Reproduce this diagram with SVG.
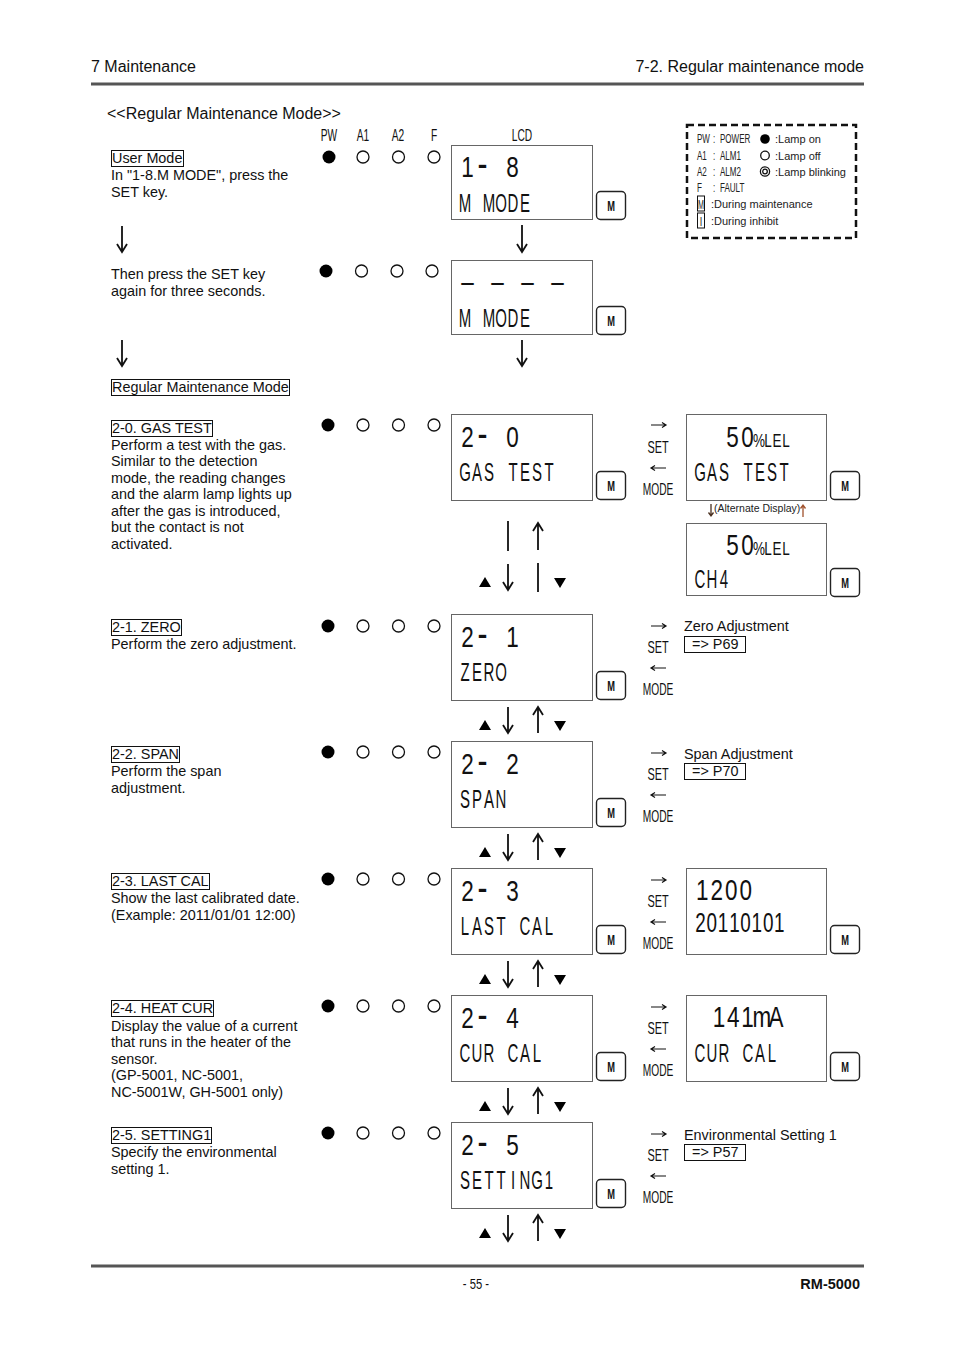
<svg xmlns="http://www.w3.org/2000/svg" width="954" height="1351" viewBox="0 0 954 1351">
<defs>
<style>
.t{font-family:"Liberation Sans",Arial,sans-serif;font-size:14.4px;fill:#111}
.hd{font-family:"Liberation Sans",Arial,sans-serif;font-size:16px;fill:#111}
.c{font-family:"Liberation Sans",Arial,sans-serif;fill:#111;text-anchor:middle}
.big{font-size:30px}
.med{font-size:25px}
.dash{font-size:40px}
.box{fill:#fff;stroke:#666;stroke-width:1}
.mb{fill:#fff;stroke:#222;stroke-width:1.4}
.mt{font-family:"Liberation Sans",Arial,sans-serif;font-size:15px;font-weight:bold;fill:#111;text-anchor:middle}
.lb{fill:none;stroke:#111;stroke-width:1}
.on{fill:#000}
.off{fill:#fff;stroke:#111;stroke-width:1.3}
.ar{fill:none;stroke:#111;stroke-width:1.8}
.sa{fill:none;stroke:#111;stroke-width:1.2}
.tri{fill:#000}
.lg{font-family:"Liberation Sans",Arial,sans-serif;font-size:11px;fill:#222}
.lgc{font-family:"Liberation Sans",Arial,sans-serif;font-size:13px;fill:#222}
</style>
</defs>
<rect width="954" height="1351" fill="#fff"/>

<g id="header">
<text class="hd" x="91" y="72">7 Maintenance</text>
<text class="hd" x="864" y="72" text-anchor="end">7-2. Regular maintenance mode</text>
<rect x="91" y="82.5" width="773" height="3" fill="#555"/>
<text class="hd" x="107" y="119">&lt;&lt;Regular Maintenance Mode&gt;&gt;</text>
</g>

<g id="column-labels">
<text class="c" font-size="17" transform="translate(329,141) scale(0.6,1)">PW</text>
<text class="c" font-size="17" transform="translate(363,141) scale(0.6,1)">A1</text>
<text class="c" font-size="17" transform="translate(398,141) scale(0.6,1)">A2</text>
<text class="c" font-size="17" transform="translate(434,141) scale(0.6,1)">F</text>
<text class="c" font-size="17" transform="translate(522,141) scale(0.6,1)">LCD</text>
</g>

<g id="legend">
<rect x="687" y="125" width="169" height="113" fill="none" stroke="#111" stroke-width="2.5" stroke-dasharray="7,4"/>
<text class="lgc" transform="translate(697,143) scale(0.62,1)"><tspan x="0">PW</tspan><tspan x="26">:</tspan><tspan x="37">POWER</tspan></text>
<text class="lgc" transform="translate(697,160) scale(0.62,1)"><tspan x="0">A1</tspan><tspan x="26">:</tspan><tspan x="37">ALM1</tspan></text>
<text class="lgc" transform="translate(697,176) scale(0.62,1)"><tspan x="0">A2</tspan><tspan x="26">:</tspan><tspan x="37">ALM2</tspan></text>
<text class="lgc" transform="translate(697,192) scale(0.62,1)"><tspan x="0">F</tspan><tspan x="26">:</tspan><tspan x="37">FAULT</tspan></text>
<rect x="697.5" y="196" width="7" height="15" fill="none" stroke="#111" stroke-width="1"/>
<text class="lgc" transform="translate(701,209) scale(0.55,1)" text-anchor="middle">M</text>
<text class="lg" x="711" y="208">:During maintenance</text>
<rect x="697.5" y="213" width="7" height="15" fill="none" stroke="#111" stroke-width="1"/>
<text class="lgc" transform="translate(701,226) scale(0.7,1)" text-anchor="middle">I</text>
<text class="lg" x="711" y="225">:During inhibit</text>
<circle cx="765" cy="139" r="4.8" class="on"/>
<text class="lg" x="775" y="143">:Lamp on</text>
<circle cx="765" cy="155.5" r="4.3" class="off" stroke-width="1"/>
<text class="lg" x="775" y="160">:Lamp off</text>
<circle cx="765" cy="171.5" r="4.6" class="off" stroke-width="1"/>
<circle cx="765" cy="171.5" r="2.3" class="off" stroke-width="1"/>
<text class="lg" x="775" y="176">:Lamp blinking</text>
</g>

<g id="step-user-mode">
<rect class="lb" x="111.5" y="150.5" width="72" height="16"/>
<text class="t" x="112" y="163">User Mode</text>
<text class="t" x="111" y="180">In "1-8.M MODE", press the</text>
<text class="t" x="111" y="197">SET key.</text>
<circle cx="329" cy="157" r="6.5" class="on"/>
<circle cx="363" cy="157" r="6" class="off"/>
<circle cx="398.5" cy="157" r="6" class="off"/>
<circle cx="434" cy="157" r="6" class="off"/>
<rect class="box" x="451.5" y="145.5" width="141" height="74"/>
<text class="c big" transform="translate(460,177) scale(0.75,1)"><tspan x="10">1</tspan><tspan class="dash" x="30">-</tspan><tspan x="50 70"> 8</tspan></text>
<text class="c med" transform="translate(459,212) scale(0.6,1)" x="10 30 50 70 90 110">M MODE</text>
<rect class="mb" x="596.5" y="191.5" width="29" height="28" rx="4"/>
<text class="mt" transform="translate(611,211) scale(0.62,1)">M</text>
</g>

<g id="step-press-set">
<text class="t" x="111" y="279">Then press the SET key</text>
<text class="t" x="111" y="296">again for three seconds.</text>
<circle cx="326" cy="271" r="6.5" class="on"/>
<circle cx="361.5" cy="271" r="6" class="off"/>
<circle cx="397" cy="271" r="6" class="off"/>
<circle cx="432" cy="271" r="6" class="off"/>
<rect class="box" x="451.5" y="260.5" width="141" height="74"/>
<text class="c big" transform="translate(460,292) scale(0.75,1)" x="10 30 50 70 90 110 130">– – – –</text>
<text class="c med" transform="translate(459,327) scale(0.6,1)" x="10 30 50 70 90 110">M MODE</text>
<rect class="mb" x="596.5" y="306.5" width="29" height="28" rx="4"/>
<text class="mt" transform="translate(611,326) scale(0.62,1)">M</text>
</g>

<g id="title-regular">
<rect class="lb" x="111.5" y="379.5" width="178" height="16"/>
<text class="t" x="112" y="392">Regular Maintenance Mode</text>
</g>

<!-- 2-0 -->
<g id="step-2-0">
<rect class="lb" x="111.5" y="420.5" width="101" height="16"/>
<text class="t" x="112" y="433">2-0. GAS TEST</text>
<text class="t" x="111" y="450">Perform a test with the gas.</text>
<text class="t" x="111" y="466">Similar to the detection</text>
<text class="t" x="111" y="483">mode, the reading changes</text>
<text class="t" x="111" y="499">and the alarm lamp lights up</text>
<text class="t" x="111" y="516">after the gas is introduced,</text>
<text class="t" x="111" y="532">but the contact is not</text>
<text class="t" x="111" y="549">activated.</text>
<circle cx="328" cy="425" r="6.5" class="on"/>
<circle cx="363" cy="425" r="6" class="off"/>
<circle cx="398.5" cy="425" r="6" class="off"/>
<circle cx="434" cy="425" r="6" class="off"/>
<rect class="box" x="451.5" y="414.5" width="141" height="86"/>
<text class="c big" transform="translate(460,447) scale(0.75,1)"><tspan x="10">2</tspan><tspan class="dash" x="30">-</tspan><tspan x="50 70"> 0</tspan></text>
<text class="c med" transform="translate(459,481) scale(0.6,1)" x="10 30 50 70 90 110 130 150">GAS TEST</text>
<rect class="mb" x="596.5" y="471.5" width="29" height="28" rx="4"/>
<text class="mt" transform="translate(611,491) scale(0.62,1)">M</text>
<path class="sa" d="M651 425H666M662 422.5L666 425L662 427.5"/>
<text class="c" font-size="17" transform="translate(658,453) scale(0.64,1)">SET</text>
<path class="sa" d="M666 468H651M655 465.5L651 468L655 470.5"/>
<text class="c" font-size="17" transform="translate(658,495) scale(0.6,1)">MODE</text>
</g>

<g id="gas-test-display">
<rect class="box" x="686.5" y="414.5" width="140" height="86"/>
<text class="c big" transform="translate(695,447) scale(0.75,1)"><tspan x="50 70">50</tspan><tspan font-size="18" x="85.5 97.5 109.5 121.5">%LEL</tspan></text>
<text class="c med" transform="translate(694,481) scale(0.6,1)" x="10 30 50 70 90 110 130 150">GAS TEST</text>
<rect class="mb" x="830.5" y="471.5" width="29" height="28" rx="4"/>
<text class="mt" transform="translate(845,491) scale(0.62,1)">M</text>
<text x="714" y="512" font-family="Liberation Sans, Arial, sans-serif" font-size="10.5" fill="#222">(Alternate Display)</text>
<path d="M711 504V516M708.5 512.5L711 516L713.5 512.5" fill="none" stroke="#4a3020" stroke-width="1.3"/>
<path d="M803 517V505M800.5 508.5L803 505L805.5 508.5" fill="none" stroke="#a0522d" stroke-width="1.3"/>
<rect class="box" x="686.5" y="523.5" width="140" height="72"/>
<text class="c big" transform="translate(695,555) scale(0.75,1)"><tspan x="50 70">50</tspan><tspan font-size="18" x="85.5 97.5 109.5 121.5">%LEL</tspan></text>
<text class="c med" transform="translate(694,588) scale(0.6,1)" x="10 30 50">CH4</text>
<rect class="mb" x="830.5" y="568.5" width="29" height="28" rx="4"/>
<text class="mt" transform="translate(845,588) scale(0.62,1)">M</text>
</g>

<!-- 2-1 -->
<g id="step-2-1">
<rect class="lb" x="111.5" y="619.5" width="70" height="16"/>
<text class="t" x="112" y="632">2-1. ZERO</text>
<text class="t" x="111" y="649">Perform the zero adjustment.</text>
<circle cx="328" cy="626" r="6.5" class="on"/>
<circle cx="363" cy="626" r="6" class="off"/>
<circle cx="398.5" cy="626" r="6" class="off"/>
<circle cx="434" cy="626" r="6" class="off"/>
<rect class="box" x="451.5" y="614.5" width="141" height="86"/>
<text class="c big" transform="translate(460,647) scale(0.75,1)"><tspan x="10">2</tspan><tspan class="dash" x="30">-</tspan><tspan x="50 70"> 1</tspan></text>
<text class="c med" transform="translate(459,681) scale(0.6,1)" x="10 30 50 70">ZERO</text>
<rect class="mb" x="596.5" y="671.5" width="29" height="28" rx="4"/>
<text class="mt" transform="translate(611,691) scale(0.62,1)">M</text>
<path class="sa" d="M651 626H666M662 623.5L666 626L662 628.5"/>
<text class="c" font-size="17" transform="translate(658,653) scale(0.64,1)">SET</text>
<path class="sa" d="M666 668H651M655 665.5L651 668L655 670.5"/>
<text class="c" font-size="17" transform="translate(658,695) scale(0.6,1)">MODE</text>
<text class="t" x="684" y="631">Zero Adjustment</text>
<rect class="lb" x="684.5" y="636.5" width="61" height="16"/>
<text class="t" x="692" y="649">=&gt; P69</text>
</g>

<!-- 2-2 -->
<g id="step-2-2">
<rect class="lb" x="111.5" y="746.5" width="68" height="16"/>
<text class="t" x="112" y="759">2-2. SPAN</text>
<text class="t" x="111" y="776">Perform the span</text>
<text class="t" x="111" y="793">adjustment.</text>
<circle cx="328" cy="752" r="6.5" class="on"/>
<circle cx="363" cy="752" r="6" class="off"/>
<circle cx="398.5" cy="752" r="6" class="off"/>
<circle cx="434" cy="752" r="6" class="off"/>
<rect class="box" x="451.5" y="741.5" width="141" height="86"/>
<text class="c big" transform="translate(460,774) scale(0.75,1)"><tspan x="10">2</tspan><tspan class="dash" x="30">-</tspan><tspan x="50 70"> 2</tspan></text>
<text class="c med" transform="translate(459,808) scale(0.6,1)" x="10 30 50 70">SPAN</text>
<rect class="mb" x="596.5" y="798.5" width="29" height="28" rx="4"/>
<text class="mt" transform="translate(611,818) scale(0.62,1)">M</text>
<path class="sa" d="M651 753H666M662 750.5L666 753L662 755.5"/>
<text class="c" font-size="17" transform="translate(658,780) scale(0.64,1)">SET</text>
<path class="sa" d="M666 795H651M655 792.5L651 795L655 797.5"/>
<text class="c" font-size="17" transform="translate(658,822) scale(0.6,1)">MODE</text>
<text class="t" x="684" y="759">Span Adjustment</text>
<rect class="lb" x="684.5" y="763.5" width="61" height="16"/>
<text class="t" x="692" y="776">=&gt; P70</text>
</g>

<!-- 2-3 -->
<g id="step-2-3">
<rect class="lb" x="111.5" y="873.5" width="98" height="16"/>
<text class="t" x="112" y="886">2-3. LAST CAL</text>
<text class="t" x="111" y="903">Show the last calibrated date.</text>
<text class="t" x="111" y="920">(Example: 2011/01/01 12:00)</text>
<circle cx="328" cy="879" r="6.5" class="on"/>
<circle cx="363" cy="879" r="6" class="off"/>
<circle cx="398.5" cy="879" r="6" class="off"/>
<circle cx="434" cy="879" r="6" class="off"/>
<rect class="box" x="451.5" y="868.5" width="141" height="86"/>
<text class="c big" transform="translate(460,901) scale(0.75,1)"><tspan x="10">2</tspan><tspan class="dash" x="30">-</tspan><tspan x="50 70"> 3</tspan></text>
<text class="c med" transform="translate(459,935) scale(0.6,1)" x="10 30 50 70 90 110 130 150">LAST CAL</text>
<rect class="mb" x="596.5" y="925.5" width="29" height="28" rx="4"/>
<text class="mt" transform="translate(611,945) scale(0.62,1)">M</text>
<path class="sa" d="M651 880H666M662 877.5L666 880L662 882.5"/>
<text class="c" font-size="17" transform="translate(658,907) scale(0.64,1)">SET</text>
<path class="sa" d="M666 922H651M655 919.5L651 922L655 924.5"/>
<text class="c" font-size="17" transform="translate(658,949) scale(0.6,1)">MODE</text>
<rect class="box" x="686.5" y="868.5" width="140" height="86"/>
<text class="c big" transform="translate(695,900) scale(0.75,1)" x="9.7 29 48.3 67.7">1200</text>
<text class="c" font-size="27" transform="translate(695,932) scale(0.7,1)" x="8 24.1 40.2 56.3 72.3 88.4 104.5 120.5">20110101</text>
<rect class="mb" x="830.5" y="925.5" width="29" height="28" rx="4"/>
<text class="mt" transform="translate(845,945) scale(0.62,1)">M</text>
</g>

<!-- 2-4 -->
<g id="step-2-4">
<rect class="lb" x="111.5" y="1000.5" width="102" height="16"/>
<text class="t" x="112" y="1013">2-4. HEAT CUR</text>
<text class="t" x="111" y="1031">Display the value of a current</text>
<text class="t" x="111" y="1047">that runs in the heater of the</text>
<text class="t" x="111" y="1064">sensor.</text>
<text class="t" x="111" y="1080">(GP-5001, NC-5001,</text>
<text class="t" x="111" y="1097">NC-5001W, GH-5001 only)</text>
<circle cx="328" cy="1006" r="6.5" class="on"/>
<circle cx="363" cy="1006" r="6" class="off"/>
<circle cx="398.5" cy="1006" r="6" class="off"/>
<circle cx="434" cy="1006" r="6" class="off"/>
<rect class="box" x="451.5" y="995.5" width="141" height="86"/>
<text class="c big" transform="translate(460,1028) scale(0.75,1)"><tspan x="10">2</tspan><tspan class="dash" x="30">-</tspan><tspan x="50 70"> 4</tspan></text>
<text class="c med" transform="translate(459,1062) scale(0.6,1)" x="10 30 50 70 90 110 130">CUR CAL</text>
<rect class="mb" x="596.5" y="1052.5" width="29" height="28" rx="4"/>
<text class="mt" transform="translate(611,1072) scale(0.62,1)">M</text>
<path class="sa" d="M651 1007H666M662 1004.5L666 1007L662 1009.5"/>
<text class="c" font-size="17" transform="translate(658,1034) scale(0.64,1)">SET</text>
<path class="sa" d="M666 1049H651M655 1046.5L651 1049L655 1051.5"/>
<text class="c" font-size="17" transform="translate(658,1076) scale(0.6,1)">MODE</text>
<rect class="box" x="686.5" y="995.5" width="140" height="86"/>
<text class="c big" transform="translate(712,1027) scale(0.75,1)" x="9.5 28.5 47.5 66.5 85.5">141mA</text>
<text class="c med" transform="translate(694,1062) scale(0.6,1)" x="10 30 50 70 90 110 130">CUR CAL</text>
<rect class="mb" x="830.5" y="1052.5" width="29" height="28" rx="4"/>
<text class="mt" transform="translate(845,1072) scale(0.62,1)">M</text>
</g>

<!-- 2-5 -->
<g id="step-2-5">
<rect class="lb" x="111.5" y="1127.5" width="100" height="16"/>
<text class="t" x="112" y="1140">2-5. SETTING1</text>
<text class="t" x="111" y="1157">Specify the environmental</text>
<text class="t" x="111" y="1174">setting 1.</text>
<circle cx="328" cy="1133" r="6.5" class="on"/>
<circle cx="363" cy="1133" r="6" class="off"/>
<circle cx="398.5" cy="1133" r="6" class="off"/>
<circle cx="434" cy="1133" r="6" class="off"/>
<rect class="box" x="451.5" y="1122.5" width="141" height="86"/>
<text class="c big" transform="translate(460,1155) scale(0.75,1)"><tspan x="10">2</tspan><tspan class="dash" x="30">-</tspan><tspan x="50 70"> 5</tspan></text>
<text class="c med" transform="translate(459,1189) scale(0.6,1)" x="10 30 50 70 90 110 130 150">SETTING1</text>
<rect class="mb" x="596.5" y="1179.5" width="29" height="28" rx="4"/>
<text class="mt" transform="translate(611,1199) scale(0.62,1)">M</text>
<path class="sa" d="M651 1134H666M662 1131.5L666 1134L662 1136.5"/>
<text class="c" font-size="17" transform="translate(658,1161) scale(0.64,1)">SET</text>
<path class="sa" d="M666 1176H651M655 1173.5L651 1176L655 1178.5"/>
<text class="c" font-size="17" transform="translate(658,1203) scale(0.6,1)">MODE</text>
<text class="t" x="684" y="1140">Environmental Setting 1</text>
<rect class="lb" x="684.5" y="1144.5" width="61" height="16"/>
<text class="t" x="692" y="1157">=&gt; P57</text>
</g>

<g id="connectors">
<path class="ar" d="M122 226V252M117 244L122 252L127 244"/>
<path class="ar" d="M122 340V366M117 358L122 366L127 358"/>
<path class="ar" d="M522 225V252M517 244L522 252L527 244"/>
<path class="ar" d="M522 340V366M517 358L522 366L527 358"/>
<path class="ar" stroke-width="2.2" d="M508 521V551"/>
<path class="ar" d="M538 550V523M533 531L538 523L543 531"/>
<path class="tri" d="M479 587L485 577L491 587Z"/>
<path class="ar" d="M508 564V590M503 582L508 590L513 582"/>
<path class="ar" stroke-width="2.2" d="M538 563V592"/>
<path class="tri" d="M554 578L566 578L560 588Z"/>

<path class="tri" d="M479 730L485 720L491 730Z"/>
<path class="ar" d="M508 707V733M503 725L508 733L513 725"/>
<path class="ar" d="M538 733V707M533 715L538 707L543 715"/>
<path class="tri" d="M554 721L566 721L560 731Z"/>

<path class="tri" d="M479 857L485 847L491 857Z"/>
<path class="ar" d="M508 834V860M503 852L508 860L513 852"/>
<path class="ar" d="M538 860V834M533 842L538 834L543 842"/>
<path class="tri" d="M554 848L566 848L560 858Z"/>

<path class="tri" d="M479 984L485 974L491 984Z"/>
<path class="ar" d="M508 961V987M503 979L508 987L513 979"/>
<path class="ar" d="M538 987V961M533 969L538 961L543 969"/>
<path class="tri" d="M554 975L566 975L560 985Z"/>

<path class="tri" d="M479 1111L485 1101L491 1111Z"/>
<path class="ar" d="M508 1088V1114M503 1106L508 1114L513 1106"/>
<path class="ar" d="M538 1114V1088M533 1096L538 1088L543 1096"/>
<path class="tri" d="M554 1102L566 1102L560 1112Z"/>

<path class="tri" d="M479 1238L485 1228L491 1238Z"/>
<path class="ar" d="M508 1215V1241M503 1233L508 1241L513 1233"/>
<path class="ar" d="M538 1241V1215M533 1223L538 1215L543 1223"/>
<path class="tri" d="M554 1229L566 1229L560 1239Z"/>
</g>

<g id="footer">
<rect x="91" y="1264.5" width="773" height="3" fill="#555"/>
<text class="c" font-size="15" transform="translate(476,1289) scale(0.75,1)">- 55 -</text>
<text x="860" y="1289" text-anchor="end" font-family="Liberation Sans, Arial, sans-serif" font-size="14.5" font-weight="bold" fill="#111">RM-5000</text>
</g>
</svg>
